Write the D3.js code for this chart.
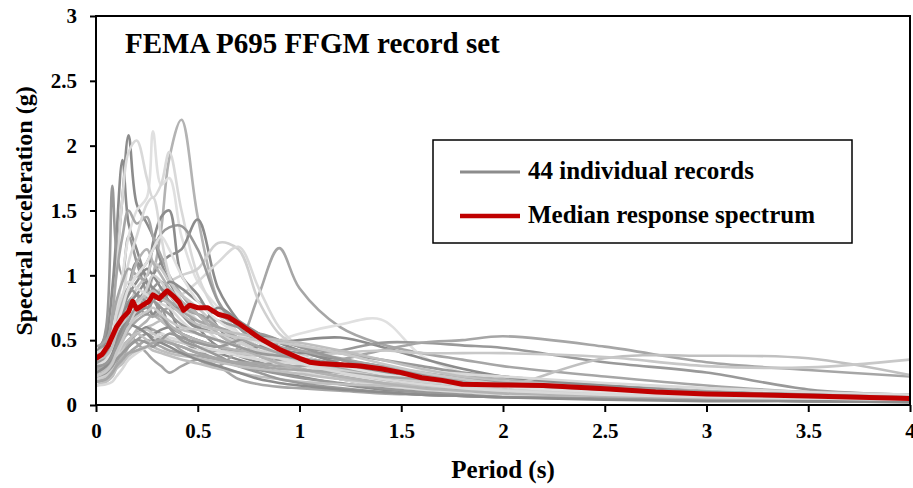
<!DOCTYPE html>
<html>
<head>
<meta charset="utf-8">
<script src="https://cdn.jsdelivr.net/npm/d3@7"></script>
<style>
  body { margin: 0; background: #fff; }
  svg text { font-family: "Liberation Serif", "Times New Roman", serif; font-weight: bold; fill: #000; }
</style>
</head>
<body>
<svg width="913" height="488"></svg>
<script>
// ---- Dados
const periods = [0, 0.05, 0.08, 0.1, 0.13, 0.16, 0.2, 0.25, 0.28, 0.32, 0.36, 0.42, 0.5, 0.6, 0.7, 0.8, 0.9, 1.0, 1.2, 1.4, 1.6, 1.8, 2.0, 2.5, 3.0, 3.5, 4.0];

const recordSa = [
  [0.30,0.34,0.40,0.45,0.52,0.60,0.70,0.85,1.00,1.35,1.90,2.20,1.45,0.80,0.55,0.45,0.38,0.33,0.25,0.20,0.16,0.13,0.11,0.08,0.06,0.05,0.04],
  [0.35,0.50,0.80,1.10,1.60,2.08,1.55,1.40,1.30,1.10,0.95,0.80,0.60,0.45,0.38,0.33,0.30,0.27,0.20,0.15,0.12,0.10,0.09,0.07,0.05,0.04,0.03],
  [0.40,0.55,0.90,1.30,1.89,1.40,1.20,0.95,0.80,0.90,0.75,0.55,0.45,0.40,0.35,0.30,0.25,0.22,0.16,0.12,0.10,0.08,0.07,0.05,0.04,0.03,0.03],
  [0.30,0.60,1.69,1.20,1.00,1.30,1.10,0.85,0.70,0.75,0.60,0.50,0.42,0.35,0.30,0.27,0.24,0.21,0.17,0.13,0.10,0.09,0.08,0.06,0.04,0.03,0.03],
  [0.28,0.35,0.50,0.70,1.00,1.30,1.50,1.60,2.11,1.70,1.75,1.30,0.95,0.75,0.55,0.42,0.35,0.30,0.22,0.17,0.14,0.12,0.10,0.07,0.05,0.04,0.03],
  [0.25,0.40,0.70,1.00,1.60,1.95,2.04,1.75,1.60,1.70,1.95,1.50,1.00,0.70,0.55,0.45,0.38,0.32,0.24,0.18,0.15,0.12,0.10,0.07,0.05,0.04,0.03],
  [0.22,0.25,0.30,0.35,0.42,0.50,0.55,0.60,0.58,0.55,0.50,0.42,0.35,0.30,0.45,0.85,1.21,0.90,0.60,0.47,0.40,0.35,0.30,0.22,0.15,0.10,0.08],
  [0.18,0.22,0.28,0.32,0.38,0.45,0.50,0.55,0.52,0.50,0.48,0.45,0.42,0.40,0.42,0.45,0.50,0.55,0.62,0.66,0.38,0.25,0.18,0.12,0.08,0.06,0.05],
  [0.25,0.30,0.40,0.50,0.60,0.75,0.80,0.90,1.00,1.10,1.15,1.20,1.43,0.90,0.65,0.50,0.42,0.38,0.30,0.22,0.18,0.15,0.12,0.09,0.06,0.05,0.04],
  [0.20,0.25,0.32,0.40,0.50,0.60,0.70,0.80,0.85,0.90,0.95,1.00,1.05,1.25,1.20,0.80,0.55,0.45,0.35,0.28,0.22,0.18,0.15,0.10,0.07,0.05,0.04],
  [0.22,0.28,0.35,0.45,0.55,0.65,0.75,0.80,0.85,0.82,0.80,0.85,0.95,1.10,1.22,0.90,0.60,0.45,0.32,0.25,0.20,0.17,0.14,0.10,0.07,0.05,0.04],
  [0.30,0.35,0.45,0.60,0.75,0.90,1.00,1.10,1.20,1.32,1.37,1.38,1.20,0.80,0.60,0.48,0.40,0.35,0.27,0.20,0.16,0.13,0.11,0.08,0.06,0.04,0.03],
  [0.30,0.35,0.45,0.55,0.70,0.90,1.10,1.00,1.25,1.45,1.50,1.00,0.85,0.60,0.45,0.38,0.32,0.28,0.22,0.17,0.13,0.11,0.09,0.07,0.05,0.04,0.03],
  [0.35,0.45,0.70,1.00,1.30,1.50,1.40,1.45,1.30,1.15,1.00,0.85,0.70,0.55,0.45,0.38,0.33,0.28,0.20,0.15,0.12,0.10,0.09,0.06,0.05,0.04,0.03],
  [0.25,0.30,0.40,0.55,0.80,1.10,1.30,1.55,1.60,1.30,1.00,0.80,0.65,0.50,0.40,0.35,0.30,0.26,0.20,0.15,0.12,0.10,0.08,0.06,0.05,0.04,0.03],
  [0.20,0.25,0.35,0.45,0.55,0.70,0.80,0.75,0.70,0.65,0.60,0.55,0.50,0.45,0.40,0.38,0.36,0.34,0.30,0.26,0.24,0.22,0.20,0.15,0.11,0.08,0.07],
  [0.40,0.45,0.55,0.65,0.75,0.85,0.95,1.05,1.00,0.90,0.80,0.70,0.60,0.55,0.50,0.45,0.42,0.40,0.35,0.30,0.25,0.20,0.17,0.12,0.09,0.07,0.06],
  [0.20,0.25,0.35,0.45,0.50,0.55,0.48,0.40,0.35,0.30,0.25,0.30,0.35,0.30,0.20,0.16,0.14,0.13,0.11,0.09,0.08,0.07,0.06,0.05,0.04,0.03,0.03],
  [0.15,0.18,0.22,0.28,0.35,0.45,0.55,0.60,0.62,0.65,0.60,0.58,0.55,0.50,0.45,0.40,0.35,0.32,0.28,0.25,0.22,0.20,0.18,0.14,0.10,0.08,0.07],
  [0.30,0.35,0.45,0.55,0.70,0.80,0.85,0.80,0.90,0.95,0.85,0.75,0.70,0.65,0.60,0.55,0.50,0.45,0.40,0.35,0.30,0.25,0.22,0.15,0.10,0.08,0.07],
  [0.25,0.28,0.35,0.45,0.60,0.75,0.90,1.00,1.10,1.05,0.95,0.85,0.75,0.60,0.50,0.42,0.36,0.32,0.27,0.22,0.18,0.15,0.13,0.10,0.08,0.06,0.05],
  [0.25,0.28,0.35,0.40,0.45,0.50,0.55,0.60,0.55,0.58,0.60,0.55,0.50,0.45,0.42,0.45,0.48,0.50,0.52,0.45,0.36,0.28,0.22,0.15,0.10,0.08,0.06],
  [0.20,0.22,0.28,0.32,0.38,0.45,0.50,0.55,0.52,0.50,0.48,0.45,0.40,0.35,0.32,0.30,0.35,0.38,0.42,0.48,0.48,0.46,0.44,0.33,0.25,0.12,0.08],
  [0.18,0.20,0.25,0.30,0.35,0.40,0.45,0.50,0.48,0.45,0.42,0.40,0.38,0.35,0.33,0.32,0.30,0.30,0.35,0.42,0.48,0.50,0.53,0.45,0.33,0.27,0.22],
  [0.15,0.18,0.22,0.28,0.32,0.38,0.42,0.45,0.42,0.40,0.38,0.35,0.32,0.28,0.25,0.22,0.20,0.18,0.16,0.15,0.15,0.14,0.14,0.36,0.38,0.36,0.23],
  [0.20,0.22,0.28,0.35,0.42,0.50,0.55,0.58,0.55,0.52,0.50,0.48,0.45,0.42,0.40,0.38,0.37,0.38,0.40,0.42,0.40,0.40,0.40,0.37,0.30,0.29,0.35],
  [0.18,0.20,0.25,0.30,0.38,0.48,0.58,0.65,0.70,0.68,0.62,0.55,0.50,0.45,0.42,0.40,0.38,0.35,0.30,0.25,0.22,0.19,0.17,0.13,0.10,0.08,0.06],
  [0.28,0.32,0.40,0.50,0.60,0.65,0.70,0.75,0.70,0.80,0.85,0.70,0.60,0.75,0.65,0.55,0.45,0.38,0.30,0.22,0.18,0.15,0.13,0.09,0.07,0.05,0.04],
  [0.15,0.16,0.18,0.22,0.28,0.35,0.40,0.45,0.50,0.55,0.52,0.50,0.45,0.42,0.38,0.35,0.33,0.32,0.30,0.28,0.26,0.24,0.22,0.17,0.13,0.10,0.08],
  [0.32,0.38,0.50,0.65,0.80,0.90,0.85,0.75,0.80,0.70,0.60,0.50,0.45,0.38,0.30,0.25,0.20,0.17,0.13,0.10,0.08,0.07,0.06,0.05,0.04,0.03,0.03],
  [0.45,0.50,0.65,0.80,0.95,1.05,1.00,0.95,0.90,0.85,0.80,0.75,0.70,0.60,0.52,0.45,0.40,0.35,0.28,0.22,0.18,0.15,0.12,0.09,0.07,0.05,0.04],
  [0.25,0.28,0.35,0.40,0.45,0.50,0.55,0.50,0.45,0.42,0.40,0.38,0.36,0.33,0.30,0.28,0.26,0.24,0.20,0.17,0.15,0.13,0.11,0.08,0.06,0.05,0.04],
  [0.35,0.40,0.50,0.60,0.70,0.78,0.85,0.95,0.90,0.85,0.95,0.90,0.80,0.70,0.62,0.55,0.48,0.42,0.32,0.25,0.20,0.16,0.14,0.10,0.08,0.06,0.05],
  [0.20,0.24,0.30,0.38,0.48,0.60,0.75,0.90,1.00,0.95,0.85,0.75,0.65,0.55,0.48,0.42,0.37,0.33,0.27,0.22,0.18,0.15,0.12,0.09,0.07,0.05,0.04],
  [0.28,0.30,0.35,0.42,0.50,0.58,0.65,0.70,0.68,0.72,0.75,0.72,0.65,0.60,0.55,0.50,0.45,0.42,0.36,0.30,0.25,0.20,0.16,0.11,0.08,0.06,0.05],
  [0.38,0.42,0.55,0.65,0.80,0.90,1.10,1.20,1.10,1.00,0.90,0.80,0.70,0.55,0.45,0.38,0.32,0.28,0.22,0.17,0.13,0.11,0.09,0.07,0.05,0.04,0.03],
  [0.22,0.25,0.30,0.35,0.40,0.45,0.50,0.48,0.45,0.50,0.55,0.52,0.48,0.45,0.50,0.55,0.50,0.45,0.35,0.28,0.22,0.18,0.15,0.11,0.08,0.06,0.05],
  [0.30,0.35,0.45,0.60,0.75,0.90,1.00,1.10,1.20,1.30,1.20,1.00,0.80,0.65,0.55,0.48,0.42,0.38,0.30,0.24,0.20,0.17,0.14,0.10,0.07,0.05,0.04],
  [0.25,0.30,0.38,0.48,0.58,0.62,0.60,0.55,0.50,0.48,0.45,0.40,0.35,0.30,0.25,0.20,0.17,0.15,0.12,0.10,0.08,0.07,0.06,0.04,0.03,0.03,0.02],
  [0.35,0.38,0.45,0.55,0.65,0.75,0.80,0.85,0.88,0.82,0.78,0.70,0.62,0.58,0.55,0.52,0.50,0.48,0.42,0.35,0.28,0.22,0.18,0.13,0.09,0.07,0.06],
  [0.18,0.20,0.25,0.30,0.35,0.40,0.42,0.45,0.48,0.50,0.48,0.45,0.40,0.36,0.32,0.30,0.28,0.27,0.25,0.22,0.20,0.18,0.16,0.12,0.09,0.07,0.06],
  [0.40,0.45,0.55,0.70,0.85,0.95,0.90,0.85,0.80,0.78,0.75,0.65,0.55,0.50,0.45,0.40,0.36,0.32,0.25,0.20,0.16,0.13,0.11,0.08,0.06,0.05,0.04],
  [0.30,0.32,0.38,0.45,0.55,0.65,0.75,0.70,0.80,0.75,0.70,0.62,0.55,0.50,0.45,0.40,0.38,0.36,0.32,0.28,0.24,0.20,0.17,0.13,0.10,0.08,0.06],
  [0.22,0.26,0.32,0.40,0.50,0.60,0.68,0.72,0.75,0.70,0.65,0.60,0.58,0.55,0.52,0.50,0.48,0.46,0.40,0.32,0.25,0.20,0.16,0.12,0.09,0.07,0.06]
];

const recordShade = [
  '#b3b3b3','#8c8c8c','#8c8c8c','#999999','#e0e0e0','#d9d9d9','#a6a6a6','#e0e0e0','#8c8c8c','#d0d0d0','#d9d9d9',
  '#999999','#8c8c8c','#a6a6a6','#d9d9d9','#b3b3b3','#8c8c8c','#a6a6a6','#bfbfbf','#999999','#c8c8c8','#8c8c8c',
  '#999999','#a6a6a6','#c0c0c0','#c8c8c8','#b3b3b3','#8c8c8c','#d9d9d9','#999999','#a6a6a6','#bfbfbf','#8c8c8c',
  '#d0d0d0','#a6a6a6','#b3b3b3','#999999','#e0e0e0','#8c8c8c','#bfbfbf','#a6a6a6','#d9d9d9','#999999','#c8c8c8'
];

const medianPeriods = [0, 0.03, 0.06, 0.1, 0.13, 0.16, 0.18, 0.2, 0.23, 0.26, 0.28, 0.31, 0.35, 0.38, 0.41, 0.43, 0.46, 0.5, 0.55, 0.6, 0.65, 0.7, 0.8, 0.9, 1.0, 1.05, 1.1, 1.2, 1.3, 1.4, 1.5, 1.6, 1.7, 1.8, 2.0, 2.2, 2.5, 2.75, 3.0, 3.5, 4.0];
const medianSa = [0.36, 0.39, 0.46, 0.60, 0.67, 0.72, 0.80, 0.74, 0.77, 0.80, 0.85, 0.82, 0.88, 0.84, 0.79, 0.73, 0.77, 0.75, 0.75, 0.70, 0.68, 0.63, 0.52, 0.43, 0.36, 0.33, 0.32, 0.31, 0.30, 0.28, 0.25, 0.21, 0.19, 0.16, 0.155, 0.15, 0.125, 0.10, 0.085, 0.07, 0.05];

const xTicks = [0, 0.5, 1, 1.5, 2, 2.5, 3, 3.5, 4];
const yTicks = [0, 0.5, 1, 1.5, 2, 2.5, 3];

const titleText = 'FEMA P695 FFGM record set';
const legendLabels = ['44 individual records', 'Median response spectrum'];
const legendColors = ['#8c8c8c', '#c00000'];

// ---- Dimensões
const svg = d3.select('svg');
const width = +svg.attr('width');
const height = +svg.attr('height');
const margens = { left: 96, right: 3, top: 16, bottom: 83 };
const innerWidth = width - margens.left - margens.right;
const innerHeight = height - margens.top - margens.bottom;

const g = svg.append('g').attr('transform', `translate(${margens.left}, ${margens.top})`);

// ---- Escalas
const mapX = d3.scaleLinear().domain([0, 4]).range([0, innerWidth]);
const mapY = d3.scaleLinear().domain([0, 3]).range([innerHeight, 0]);

g.append('clipPath').attr('id', 'area')
  .append('rect').attr('width', innerWidth).attr('height', innerHeight);

// ---- Registros
const linha = d3.line()
  .x(d => mapX(d[0]))
  .y(d => mapY(d[1]))
  .curve(d3.curveCatmullRom.alpha(0.5));

const plot = g.append('g').attr('clip-path', 'url(#area)');

plot.selectAll('.registro')
  .data(recordSa)
  .enter()
  .append('path')
  .attr('class', 'registro')
  .attr('d', vals => linha(vals.map((v, i) => [periods[i], v])))
  .attr('fill', 'none')
  .attr('stroke', (d, i) => recordShade[i])
  .attr('stroke-width', 2.6)
  .attr('stroke-linejoin', 'round');

// ---- Mediana
plot.append('path')
  .datum(medianPeriods.map((t, i) => [t, medianSa[i]]))
  .attr('d', d3.line().x(d => mapX(d[0])).y(d => mapY(d[1])))
  .attr('fill', 'none')
  .attr('stroke', '#c00000')
  .attr('stroke-width', 5)
  .attr('stroke-linejoin', 'round');

// ---- Eixos
const eixoX = g.append('g')
  .attr('transform', `translate(0, ${innerHeight})`)
  .call(d3.axisBottom(mapX).tickValues(xTicks).tickSize(7).tickPadding(11).tickFormat(d3.format('')));
const eixoY = g.append('g')
  .call(d3.axisLeft(mapY).tickValues(yTicks).tickSize(6).tickPadding(13).tickFormat(d3.format('')));

[eixoX, eixoY].forEach(ax => {
  ax.select('.domain').remove();
  ax.selectAll('line').attr('stroke', '#000').attr('stroke-width', 2);
  ax.selectAll('text').style('font-size', '21px').style('font-family', '"Liberation Serif", serif').style('font-weight', 'bold');
});

// moldura
g.append('rect')
  .attr('width', innerWidth).attr('height', innerHeight)
  .attr('fill', 'none').attr('stroke', '#000').attr('stroke-width', 2);

// ---- Rótulos
g.append('text')
  .attr('x', 29).attr('y', 37)
  .style('font-size', '29px')
  .text(titleText);

g.append('text')
  .attr('x', innerWidth / 2).attr('y', innerHeight + 73)
  .attr('text-anchor', 'middle')
  .style('font-size', '25px')
  .text('Period (s)');

svg.append('text')
  .attr('transform', 'rotate(-90)')
  .attr('x', -211).attr('y', 32)
  .attr('text-anchor', 'middle')
  .style('font-size', '24px')
  .text('Spectral acceleration (g)');

// ---- Legenda
const leg = svg.append('g').attr('transform', 'translate(433, 140)');
leg.append('rect')
  .attr('width', 419).attr('height', 103)
  .attr('fill', '#fff').attr('stroke', '#000').attr('stroke-width', 1.5);

leg.selectAll('.item')
  .data(legendLabels)
  .enter()
  .append('g')
  .attr('class', 'item')
  .attr('transform', (d, i) => `translate(0, ${32 + i * 44})`)
  .each(function (d, i) {
    const item = d3.select(this);
    item.append('line')
      .attr('x1', 27).attr('x2', 87)
      .attr('stroke', legendColors[i])
      .attr('stroke-width', i === 0 ? 3 : 4.5);
    item.append('text')
      .attr('x', 95).attr('y', 7)
      .style('font-size', '25px')
      .text(d);
  });
</script>
</body>
</html>
